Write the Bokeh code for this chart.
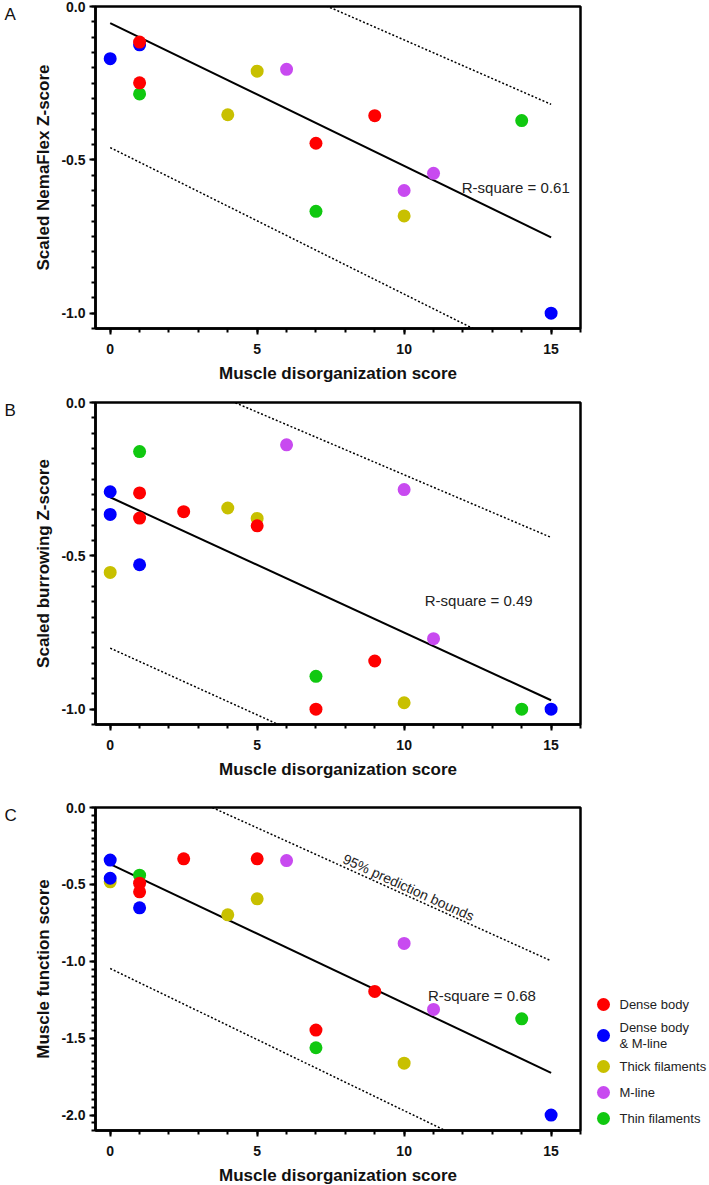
from bokeh.plotting import figure
from bokeh.layouts import column, row
from bokeh.models import Range1d, FixedTicker, Label, ColumnDataSource, PrintfTickFormatter
from bokeh.transform import factor_cmap
from bokeh.embed import file_html
from bokeh.resources import INLINE
from bokeh.core.properties import value

FONT = "Liberation Sans"

# ---------------- data ----------------
groups = ["Dense body", "Dense body & M-line", "Thick filaments", "M-line", "Thin filaments"]
group_labels = ["Dense body", "Dense body\n& M-line", "Thick filaments", "M-line", "Thin filaments"]
group_colors = ["#ff0000", "#0000ff", "#c8c000", "#c84af0", "#10c810"]

x_ticks = [0, 5, 10, 15]

# Panel A: Scaled NemaFlex Z-score
a_x = [4, 5, 10, 6, 10, 11, 1, 7, 14, 0, 1, 15, 1, 1, 7, 9]
a_y = [-0.353, -0.211, -0.683, -0.205, -0.600, -0.544, -0.285, -0.668, -0.372,
       -0.170, -0.125, -1.000, -0.116, -0.249, -0.446, -0.356]
a_g = ["Thick filaments", "Thick filaments", "Thick filaments", "M-line", "M-line", "M-line",
       "Thin filaments", "Thin filaments", "Thin filaments",
       "Dense body & M-line", "Dense body & M-line", "Dense body & M-line",
       "Dense body", "Dense body", "Dense body", "Dense body"]

# Panel B: Scaled burrowing Z-score
b_x = [4, 5, 0, 10, 6, 10, 11, 1, 7, 14, 0, 0, 1, 15, 1, 1, 2.5, 5, 7, 9]
b_y = [-0.344, -0.378, -0.554, -0.979, -0.138, -0.284, -0.770, -0.160, -0.893, -1.000,
       -0.291, -0.365, -0.529, -1.000, -0.295, -0.377, -0.356, -0.402, -1.000, -0.843]
b_g = ["Thick filaments", "Thick filaments", "Thick filaments", "Thick filaments",
       "M-line", "M-line", "M-line",
       "Thin filaments", "Thin filaments", "Thin filaments",
       "Dense body & M-line", "Dense body & M-line", "Dense body & M-line", "Dense body & M-line",
       "Dense body", "Dense body", "Dense body", "Dense body", "Dense body", "Dense body"]

# Panel C: Muscle function score
c_x = [0, 4, 5, 10, 6, 10, 11, 1, 7, 14, 0, 0, 1, 15, 1, 1, 2.5, 5, 7, 9]
c_y = [-0.483, -0.698, -0.594, -1.662, -0.345, -0.884, -1.313, -0.440, -1.562, -1.374,
       -0.342, -0.460, -0.652, -2.000, -0.492, -0.548, -0.334, -0.334, -1.447, -1.196]
c_g = ["Thick filaments", "Thick filaments", "Thick filaments", "Thick filaments",
       "M-line", "M-line", "M-line",
       "Thin filaments", "Thin filaments", "Thin filaments",
       "Dense body & M-line", "Dense body & M-line", "Dense body & M-line", "Dense body & M-line",
       "Dense body", "Dense body", "Dense body", "Dense body", "Dense body", "Dense body"]

# regression lines and 95% prediction bounds (values at x = 0 and x = 15)
fit_x = [0, 15]
a_fit, a_upper, a_lower = [-0.054, -0.753], [0.311, -0.319], [-0.460, -1.177]
b_fit, b_upper, b_lower = [-0.309, -0.971], [0.173, -0.440], [-0.801, -1.454]
c_fit, c_upper, c_lower = [-0.368, -1.725], [0.300, -0.997], [-1.047, -2.433]

a_r2, b_r2, c_r2 = "R-square = 0.61", "R-square = 0.49", "R-square = 0.68"

LETTER_W = 20


def letter_fig(letter, frame_h, border_top, border_bottom, y_center):
    f = figure(frame_width=LETTER_W, frame_height=frame_h, x_range=Range1d(0, LETTER_W),
               y_range=Range1d(frame_h, 0), output_backend="svg", toolbar_location=None,
               x_axis_type=None, y_axis_type=None,
               min_border_left=0, min_border_right=0,
               min_border_top=border_top, min_border_bottom=border_bottom)
    f.grid.visible = False
    f.outline_line_color = None
    f.text([4], [y_center], text=[letter], text_font=value(FONT), text_font_size="17px",
           text_color="#111111", text_baseline="middle", text_align="left")
    return f


def make_panel(xs, ys, gs, fit, upper, lower, ylabel, ylo, ymajor, r2, r2_pos,
               frame_h, border_top, border_bottom, border_right):
    p = figure(frame_width=485, frame_height=frame_h,
               x_range=Range1d(-0.5, 16), y_range=Range1d(ylo, 0),
               output_backend="svg", toolbar_location=None,
               min_border_left=95 - LETTER_W, min_border_right=border_right,
               min_border_top=border_top, min_border_bottom=border_bottom)
    p.xgrid.visible = False
    p.ygrid.visible = False
    p.outline_line_color = "black"
    p.outline_line_width = 2.5

    p.line(fit_x, upper, line_color="black", line_width=1.5, line_dash="2 2")
    p.line(fit_x, lower, line_color="black", line_width=1.5, line_dash="2 2")
    p.line(fit_x, fit, line_color="black", line_width=2)

    src = ColumnDataSource(dict(x=xs, y=ys, g=gs))
    p.scatter("x", "y", source=src, size=13, marker="circle", line_color=None,
              fill_color=factor_cmap("g", palette=group_colors, factors=groups))

    p.add_layout(Label(x=r2_pos[0], y=r2_pos[1], text=r2, text_font=FONT,
                       text_font_size="15px", text_color="#222222",
                       text_baseline="middle", text_align="left"))

    minor_y = [round(-0.05 * i, 2) for i in range(0, int(round(-ylo / 0.05)) + 1)]
    p.xaxis.ticker = FixedTicker(ticks=x_ticks, minor_ticks=list(range(0, 17)))
    p.yaxis.ticker = FixedTicker(ticks=ymajor, minor_ticks=minor_y)
    p.xaxis.formatter = PrintfTickFormatter(format="%d")
    p.yaxis.formatter = PrintfTickFormatter(format="%.1f")

    for ax in (p.xaxis[0], p.yaxis[0]):
        ax.axis_line_width = 2.5
        ax.axis_line_color = "black"
        ax.major_tick_line_width = 2
        ax.minor_tick_line_width = 2
        ax.major_tick_line_color = "black"
        ax.minor_tick_line_color = "black"
        ax.major_tick_out = 6
        ax.major_tick_in = 0
        ax.minor_tick_out = 4
        ax.minor_tick_in = 0
        ax.major_label_text_font = FONT
        ax.major_label_text_font_style = "bold"
        ax.major_label_text_font_size = "14px"
        ax.major_label_text_color = "#111111"
        ax.axis_label_text_font = FONT
        ax.axis_label_text_font_style = "bold"
        ax.axis_label_text_font_size = "17px"
        ax.axis_label_text_color = "#111111"
    p.xaxis.axis_label = "Muscle disorganization score"
    p.yaxis.axis_label = ylabel
    p.xaxis.major_label_standoff = 9
    p.xaxis.axis_label_standoff = 7
    p.yaxis.major_label_standoff = 4
    p.yaxis.axis_label_standoff = 5
    return p


pA = make_panel(a_x, a_y, a_g, a_fit, a_upper, a_lower, "Scaled NemaFlex Z-score",
                -1.05, [0, -0.5, -1.0], a_r2, (11.96, -0.59), 322, 6, 62, 10)
pB = make_panel(b_x, b_y, b_g, b_fit, b_upper, b_lower, "Scaled burrowing Z-score",
                -1.05, [0, -0.5, -1.0], b_r2, (10.7, -0.646), 322, 12, 62, 10)
pC = make_panel(c_x, c_y, c_g, c_fit, c_upper, c_lower, "Muscle function score",
                -2.1, [0, -0.5, -1.0, -1.5, -2.0], c_r2, (10.81, -1.225), 323, 21, 62, 5)
pC.add_layout(Label(x=10.15, y=-0.52, text="95% prediction bounds", text_font=FONT,
                    text_font_size="14px", text_color="#222222", angle=-0.426,
                    text_baseline="middle", text_align="center"))

# ---------------- legend (separate panel right of C) ----------------
leg_w = 124
leg = figure(frame_width=leg_w, frame_height=323, x_range=Range1d(0, leg_w),
             y_range=Range1d(323, 0), output_backend="svg", toolbar_location=None,
             x_axis_type=None, y_axis_type=None,
             min_border_left=0, min_border_right=0, min_border_top=21, min_border_bottom=62)
leg.grid.visible = False
leg.outline_line_color = None
leg_y = [197, 228, 259, 285, 311]
leg.scatter([18] * 5, leg_y, size=13, marker="circle", line_color=None, fill_color=group_colors)
leg.text([34] * 5, leg_y, text=group_labels, text_font=value(FONT), text_font_size="13px",
         text_color="#222222", text_baseline="middle", text_align="left", text_line_height=1.1)

layout = column(
    row(letter_fig("A", 322, 6, 62, 7.5), pA),
    row(letter_fig("B", 322, 12, 62, 8), pB),
    row(letter_fig("C", 333, 11, 62, 8), pC, leg),
)
open("out.html", "w").write(file_html(layout, INLINE))
